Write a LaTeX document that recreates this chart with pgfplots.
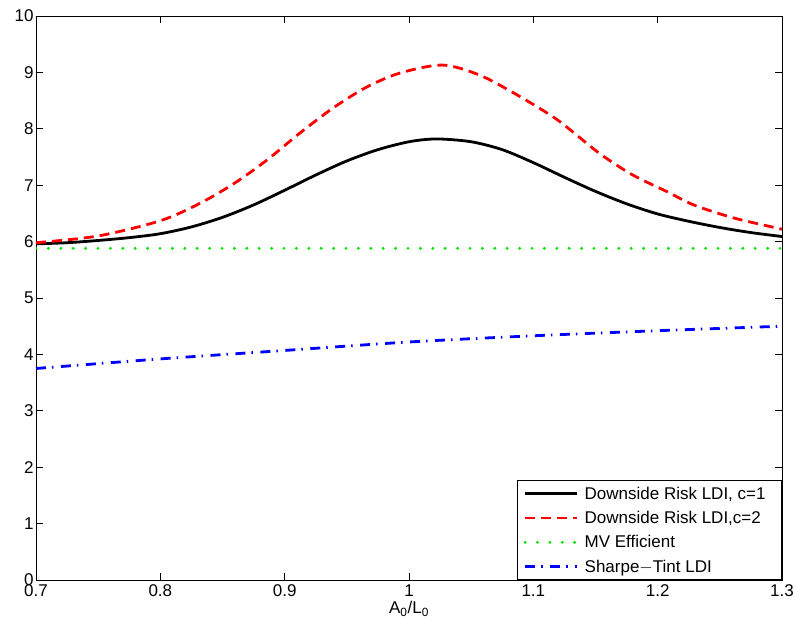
\documentclass[border=0pt]{standalone}
\usepackage{fontspec}
\setmainfont{Liberation Sans}
\usepackage{pgfplots}
\pgfplotsset{compat=1.18}
\begin{document}
\begin{tikzpicture}[x=1pt,y=1pt]
\useasboundingbox (-36,-48) rectangle (759,580);
\begin{axis}[
  at={(0,0)}, anchor=south west,
  width=746pt, height=564pt, scale only axis,
  xmin=0.7, xmax=1.3, ymin=0, ymax=10,
  xtick={0.7,0.8,...,1.3}, ytick={0,1,...,10},
  xticklabels={0.7,0.8,0.9,1,1.1,1.2,1.3},
  tick align=inside, major tick length=7pt,
  tick style={black, line width=0.6pt},
  axis line style={line width=0.8pt},
  ticklabel style={font=\fontsize{17}{19}\selectfont},
  yticklabel style={xshift=1pt},
  xticklabel style={yshift=-1pt},
  /pgf/number format/assume math mode=true,
  xlabel={A\textsubscript{0}/L\textsubscript{0}},
  xlabel style={font=\fontsize{17}{19}\selectfont, yshift=2pt},
  legend style={at={(1,0)}, anchor=south east, draw=black, line width=0.8pt,
    font=\fontsize{17}{19}\selectfont, cells={anchor=west},
    row sep=6.5pt, column sep=4pt, inner xsep=6pt, inner ysep=4pt},
  legend image code/.code={\draw[#1] (0pt,0pt) -- (52pt,0pt);},
  clip=true,
]
\addplot[black, line width=2.8pt, smooth] coordinates {
(0.70,5.96) (0.725,5.98) (0.75,6.02) (0.775,6.07) (0.80,6.14) (0.825,6.26)
(0.85,6.43) (0.875,6.65) (0.90,6.91) (0.925,7.18) (0.95,7.43) (0.975,7.63)
(1.00,7.77) (1.022,7.82) (1.05,7.77) (1.075,7.63) (1.10,7.40) (1.125,7.14)
(1.15,6.89) (1.175,6.67) (1.20,6.49) (1.225,6.36) (1.25,6.25) (1.275,6.16) (1.30,6.09)};
\addlegendentry{Downside Risk LDI, c=1\rule{8pt}{0pt}}
\addplot[red, line width=2.8pt, dash pattern=on 10pt off 6pt, smooth] coordinates {
(0.70,5.98) (0.75,6.10) (0.80,6.37) (0.832,6.68) (0.86,7.04) (0.886,7.45)
(0.912,7.92) (0.939,8.37) (0.966,8.74) (0.993,8.99) (1.027,9.13) (1.057,8.95)
(1.087,8.60) (1.116,8.21) (1.132,7.94) (1.154,7.55) (1.18,7.18) (1.208,6.88)
(1.229,6.65) (1.261,6.42) (1.30,6.22)};
\addlegendentry{Downside Risk LDI,c=2}
\addplot[green!90!black, line width=3.2pt, line cap=round, dash pattern=on 0pt off 12.4pt] coordinates {
(0.70,5.88) (1.30,5.88)};
\addlegendentry{MV Efficient}
\addplot[blue, line width=2.8pt, dash pattern=on 10pt off 6pt on 1.5pt off 7.5pt, smooth] coordinates {
(0.70,3.75) (0.80,3.92) (0.90,4.07) (1.00,4.22) (1.10,4.33) (1.20,4.42) (1.30,4.50)};
\addlegendentry{Sharpe$-$Tint LDI}
\end{axis}
\end{tikzpicture}
\end{document}
